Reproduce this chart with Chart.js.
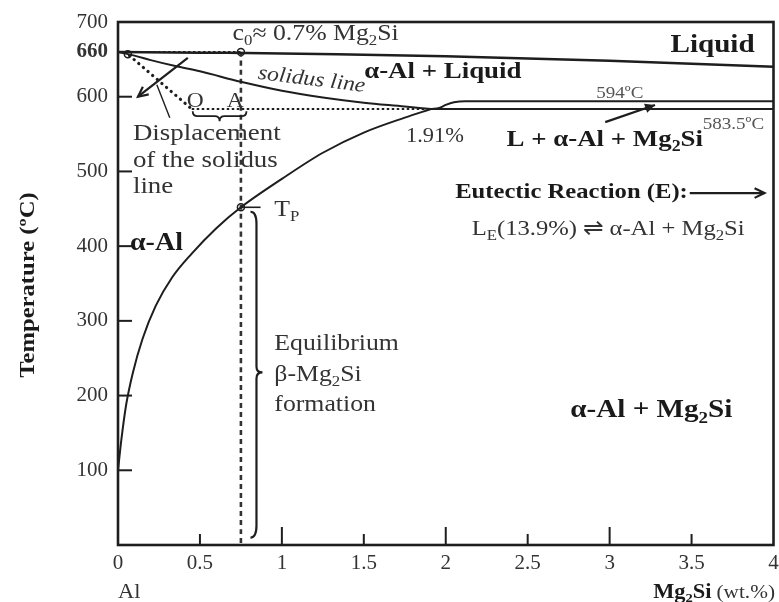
<!DOCTYPE html>
<html>
<head>
<meta charset="utf-8">
<script src="https://cdn.jsdelivr.net/npm/chart.js@4.4.1/dist/chart.umd.min.js"></script>
<style>
  html, body { margin: 0; padding: 0; background: #fff; }
  canvas { display: block; }
</style>
</head>
<body>
<canvas id="phase" width="779" height="602"></canvas>
<script>
// Al-rich end of the Al - Mg2Si section (wt.% Mg2Si vs temperature)
const xTicks = [0, 0.5, 1, 1.5, 2, 2.5, 3, 3.5, 4];
const yTicks = [100, 200, 300, 400, 500, 600, 660, 700];

const liquidusX = [0, 0.5, 1, 1.5, 2, 2.5, 3, 3.5, 4];
const liquidusT = [660, 659, 658, 656, 654, 651, 648, 644, 640];

const solidusX = [0, 0.1, 0.2, 0.35, 0.5, 0.75, 1.0, 1.25, 1.5, 1.75, 1.91];
const solidusT = [660, 655, 649, 641, 634, 620, 608, 599, 592, 587, 583.5];

const solvusX = [0, 0.02, 0.05, 0.09, 0.15, 0.23, 0.33, 0.45, 0.6, 0.75, 1.0, 1.25, 1.5, 1.75, 1.91];
const solvusT = [100, 140, 188, 230, 276, 320, 358, 390, 424, 452, 490, 525, 552, 572, 583.5];

const upperX = [1.91, 1.96, 2.0, 2.05, 2.12, 4];
const upperT = [583.5, 585, 589, 592.5, 594, 594];

const eutecticX = [1.91, 4];
const eutecticT = [583.5, 583.5];

// displaced (non-equilibrium) solidus, dotted
const shiftDiagX = [0.07, 0.45];
const shiftDiagT = [655, 583.5];
const shiftFlatX = [0.45, 1.91];
const shiftFlatT = [583.5, 583.5];

const meltX = [0, 0.75];
const meltT = [660, 660];

const alloyX = [0.75, 0.75];
const alloyT = [660, 0];

const markerX = [0.06, 0.75, 0.75];
const markerT = [657, 660, 452];

const INK = '#1e1e1e';
const GREY = '#333';
const SERIF = '"Liberation Serif", "Times New Roman", serif';
const SX = 1.12; // wide typeface look

function pts(xs, ys) {
  return xs.map((x, i) => ({ x, y: ys[i] }));
}

function curve(xs, ys, extra) {
  return Object.assign({
    data: pts(xs, ys),
    showLine: true,
    borderColor: INK,
    borderWidth: 2,
    pointRadius: 0,
    cubicInterpolationMode: 'monotone',
    fill: false
  }, extra || {});
}

// text labels: "_{..}" marks a subscript
const labels = [
  { t: 'c_{0}≈ 0.7% Mg_{2}Si', x: 0.699, y: 676, size: 23 },
  { t: 'Liquid', x: 3.885, y: 660, size: 26, bold: true, align: 'right' },
  { t: 'α-Al + Liquid', x: 1.502, y: 625, size: 24, bold: true },
  { t: 'solidus line', x: 0.851, y: 624, size: 21, italic: true, rot: 7 },
  { t: '594ºC', x: 2.918, y: 598, size: 17, color: '#555' },
  { t: '583.5ºC', x: 3.568, y: 557, size: 17, color: '#555' },
  { t: '1.91%', x: 1.757, y: 539, size: 20 },
  { t: 'L + α-Al + Mg_{2}Si', x: 2.371, y: 534, size: 24, bold: true },
  { t: 'O', x: 0.419, y: 586, size: 21 },
  { t: 'A', x: 0.663, y: 586, size: 21 },
  { t: 'Displacement', x: 0.091, y: 542, size: 24 },
  { t: 'of the solidus', x: 0.091, y: 506, size: 24 },
  { t: 'line', x: 0.091, y: 471, size: 24 },
  { t: 'Eutectic Reaction (E):', x: 3.477, y: 465, size: 22, bold: true, align: 'right' },
  { t: 'L_{E}(13.9%) ⇌ α-Al + Mg_{2}Si', x: 3.824, y: 415, size: 22, align: 'right' },
  { t: 'α-Al', x: 0.073, y: 395, size: 25, bold: true },
  { t: 'T_{P}', x: 0.954, y: 440, size: 23 },
  { t: 'Equilibrium', x: 0.954, y: 261, size: 23 },
  { t: 'β-Mg_{2}Si', x: 0.954, y: 220, size: 23 },
  { t: 'formation', x: 0.954, y: 179, size: 23 },
  { t: 'α-Al + Mg_{2}Si', x: 2.76, y: 171, size: 26, bold: true }
];

const arrows = [
  { from: [0.426, 652], to: [0.122, 600], head: 'open' },
  { from: [2.973, 566], to: [3.277, 589], head: 'solid' },
  { from: [3.489, 471], to: [3.945, 471], head: 'open' }
];

function drawRich(ctx, str, x, y, o) {
  const style = (o.italic ? 'italic ' : '') + (o.bold ? 'bold ' : '');
  const main = style + o.size + 'px ' + SERIF;
  const sub = style + Math.round(o.size * 0.66) + 'px ' + SERIF;
  const parts = [];
  str.replace(/_\{([^}]*)\}|([^_]+)/g, (m, s, t) => {
    parts.push(s !== undefined ? { t: s, sub: true } : { t: t, sub: false });
  });
  ctx.save();
  ctx.translate(x, y);
  if (o.rot) ctx.rotate(o.rot * Math.PI / 180);
  ctx.scale(SX, 1);
  let w = 0;
  parts.forEach(p => {
    ctx.font = p.sub ? sub : main;
    p.w = ctx.measureText(p.t).width;
    w += p.w;
  });
  let cx = o.align === 'right' ? -w : o.align === 'center' ? -w / 2 : 0;
  ctx.textBaseline = 'alphabetic';
  ctx.fillStyle = o.color || (o.bold ? '#1a1a1a' : GREY);
  parts.forEach(p => {
    ctx.font = p.sub ? sub : main;
    ctx.fillText(p.t, cx, p.sub ? o.size * 0.22 : 0);
    cx += p.w;
  });
  ctx.restore();
}

const annotate = {
  id: 'annotate',
  afterDatasetsDraw(chart) {
    const { ctx, chartArea: a, scales } = chart;
    const px = v => scales.x.getPixelForValue(v);
    const py = v => scales.y.getPixelForValue(v);
    const seg = (x1, y1, x2, y2) => {
      ctx.beginPath();
      ctx.moveTo(x1, y1);
      ctx.lineTo(x2, y2);
      ctx.stroke();
    };

    ctx.save();
    ctx.strokeStyle = INK;
    ctx.fillStyle = INK;
    ctx.lineCap = 'butt';

    // inward tick marks
    ctx.lineWidth = 2;
    yTicks.filter(v => v < 660).forEach(v => seg(a.left, py(v), a.left + 14, py(v)));
    xTicks.slice(1, -1).forEach(v => {
      const len = Number.isInteger(v) ? 18 : 11;
      seg(px(v), a.bottom, px(v), a.bottom - len);
    });

    // frame
    ctx.lineWidth = 2.6;
    ctx.strokeRect(a.left, a.top, a.right - a.left, a.bottom - a.top);

    // T_P marker tick
    ctx.lineWidth = 1.6;
    seg(px(0.75), py(452), px(0.87), py(452));

    // leader from the displacement note
    ctx.lineWidth = 1.4;
    seg(px(0.237), py(616), px(0.316), py(572));

    // brace under O-A
    ctx.lineWidth = 1.8;
    const bx1 = px(0.456), bx2 = px(0.784), bt = px(0.62), by = py(574), h = 5;
    ctx.beginPath();
    ctx.moveTo(bx1, by - h);
    ctx.quadraticCurveTo(bx1, by, bx1 + h, by);
    ctx.lineTo(bt - h, by);
    ctx.quadraticCurveTo(bt, by, bt, by + h);
    ctx.quadraticCurveTo(bt, by, bt + h, by);
    ctx.lineTo(bx2 - h, by);
    ctx.quadraticCurveTo(bx2, by, bx2, by - h);
    ctx.stroke();

    // brace spanning the equilibrium precipitation range
    ctx.lineWidth = 2.2;
    const vx = px(0.845), vt = py(446), vb = py(10), vm = py(231), w = 6;
    ctx.beginPath();
    ctx.moveTo(vx - w, vt);
    ctx.quadraticCurveTo(vx, vt, vx, vt + w * 2);
    ctx.lineTo(vx, vm - w);
    ctx.quadraticCurveTo(vx, vm, vx + w, vm);
    ctx.quadraticCurveTo(vx, vm, vx, vm + w);
    ctx.lineTo(vx, vb - w * 2);
    ctx.quadraticCurveTo(vx, vb, vx - w, vb);
    ctx.stroke();

    // arrows
    arrows.forEach(ar => {
      const x1 = px(ar.from[0]), y1 = py(ar.from[1]);
      const x2 = px(ar.to[0]), y2 = py(ar.to[1]);
      const ang = Math.atan2(y2 - y1, x2 - x1);
      const L = 11, spread = 0.45;
      ctx.lineWidth = 2.2;
      seg(x1, y1, x2, y2);
      ctx.beginPath();
      ctx.moveTo(x2 - L * Math.cos(ang - spread), y2 - L * Math.sin(ang - spread));
      ctx.lineTo(x2, y2);
      ctx.lineTo(x2 - L * Math.cos(ang + spread), y2 - L * Math.sin(ang + spread));
      if (ar.head === 'solid') {
        ctx.closePath();
        ctx.fill();
      } else {
        ctx.stroke();
      }
    });

    // labels
    labels.forEach(l => drawRich(ctx, l.t, px(l.x), py(l.y), l));

    // axis titles
    drawRich(ctx, 'Temperature (ºC)', 34, 285, { size: 22, bold: true, rot: -90, align: 'center' });
    drawRich(ctx, 'Al', 118, 598, { size: 20 });
    const tail = '(wt.%)';
    ctx.font = '19px ' + SERIF;
    const tw = ctx.measureText(tail).width * SX;
    drawRich(ctx, tail, 775, 598, { size: 19, align: 'right' });
    drawRich(ctx, 'Mg_{2}Si', 775 - tw - 5, 598, { size: 20, bold: true, align: 'right' });

    ctx.restore();
  }
};

new Chart(document.getElementById('phase'), {
  type: 'scatter',
  data: {
    datasets: [
      curve(liquidusX, liquidusT, { borderWidth: 2.5 }),
      curve(solidusX, solidusT),
      curve(solvusX, solvusT),
      curve(upperX, upperT),
      curve(eutecticX, eutecticT),
      curve(shiftDiagX, shiftDiagT, { borderWidth: 3.2, borderDash: [0.1, 6], borderCapStyle: 'round' }),
      curve(shiftFlatX, shiftFlatT, { borderWidth: 2, borderDash: [2.5, 2.5] }),
      curve(meltX, meltT, { borderWidth: 2, borderDash: [2.5, 2.5] }),
      curve(alloyX, alloyT, { borderWidth: 2.6, borderDash: [5, 4], borderColor: '#333' }),
      {
        data: pts(markerX, markerT),
        pointRadius: 3.5,
        pointBorderWidth: 1.5,
        pointBackgroundColor: '#fff',
        pointBorderColor: INK,
        showLine: false
      }
    ]
  },
  options: {
    responsive: false,
    animation: false,
    events: [],
    layout: { padding: { top: 22, right: 3, left: 0, bottom: 0 } },
    plugins: { legend: { display: false }, tooltip: { enabled: false } },
    scales: {
      x: {
        type: 'linear',
        min: 0,
        max: 4,
        afterBuildTicks: s => { s.ticks = xTicks.map(v => ({ value: v })); },
        afterFit: s => { s.height = 57; s.paddingLeft = 0; s.paddingRight = 0; },
        grid: { display: false, drawTicks: false },
        border: { display: false },
        ticks: {
          padding: 6,
          color: '#333',
          autoSkip: false,
          maxRotation: 0,
          font: { family: SERIF, size: 21 },
          callback: v => String(v)
        }
      },
      y: {
        type: 'linear',
        min: 0,
        max: 700,
        afterBuildTicks: s => { s.ticks = yTicks.map(v => ({ value: v })); },
        afterFit: s => { s.width = 118; s.paddingTop = 0; s.paddingBottom = 0; },
        grid: { display: false, drawTicks: false },
        border: { display: false },
        ticks: {
          padding: 10,
          color: '#333',
          autoSkip: false,
          font: c => ({ family: SERIF, size: 21, weight: c.tick && c.tick.value === 660 ? 'bold' : 'normal' }),
          callback: v => String(v)
        }
      }
    }
  },
  plugins: [annotate]
});
</script>
</body>
</html>
